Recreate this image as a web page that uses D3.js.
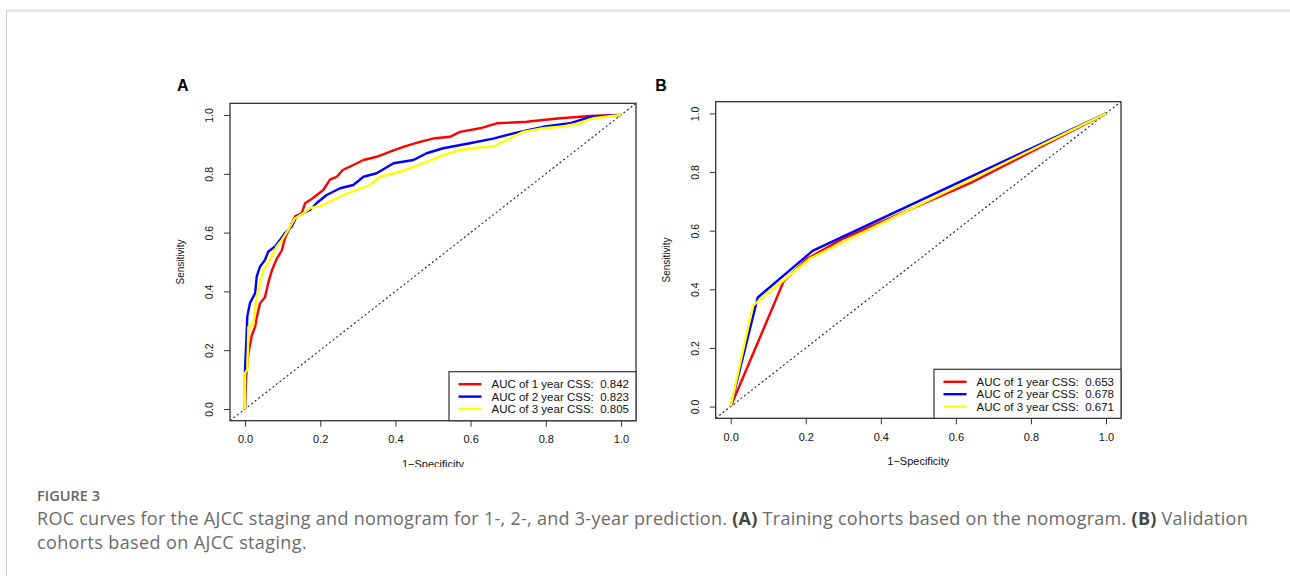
<!DOCTYPE html>
<html>
<head>
<meta charset="utf-8">
<script src="https://cdn.jsdelivr.net/npm/d3@7"></script>
<style>
  html, body { margin: 0; padding: 0; background: #fff; }
  svg { display: block; }
</style>
</head>
<body>
<svg id="chart" width="1290" height="576"></svg>
<script>
// ---------------- DATA ----------------
const tickValues = [0, 0.2, 0.4, 0.6, 0.8, 1.0];
const tickLabels = ["0.0", "0.2", "0.4", "0.6", "0.8", "1.0"];
const seriesColors = ["#ff0000", "#0000ff", "#ffff00"];

// Panel A: training cohort (nomogram) — [1-specificity, sensitivity]
const aYear1 = [[0,0],[0.003,0.11],[0.009,0.19],[0.018,0.25],[0.027,0.28],[0.031,0.31],[0.04,0.36],[0.053,0.38],[0.062,0.43],[0.071,0.47],[0.084,0.51],[0.098,0.54],[0.106,0.58],[0.12,0.62],[0.133,0.655],[0.151,0.666],[0.16,0.70],[0.18,0.717],[0.208,0.745],[0.226,0.78],[0.244,0.79],[0.26,0.813],[0.288,0.83],[0.315,0.847],[0.35,0.858],[0.395,0.88],[0.421,0.892],[0.465,0.909],[0.5,0.92],[0.545,0.926],[0.572,0.943],[0.625,0.955],[0.67,0.972],[0.749,0.977],[0.793,0.983],[0.838,0.989],[0.918,0.997],[1,1]];
const aYear2 = [[0,0],[0,0.134],[0.004,0.247],[0.006,0.315],[0.013,0.36],[0.027,0.394],[0.031,0.45],[0.04,0.485],[0.053,0.507],[0.062,0.536],[0.08,0.553],[0.093,0.575],[0.106,0.598],[0.124,0.62],[0.137,0.655],[0.155,0.666],[0.173,0.677],[0.19,0.70],[0.217,0.728],[0.253,0.751],[0.288,0.762],[0.315,0.79],[0.35,0.802],[0.395,0.836],[0.448,0.847],[0.483,0.87],[0.527,0.887],[0.598,0.904],[0.66,0.92],[0.731,0.943],[0.793,0.96],[0.864,0.972],[0.918,0.994],[1,1]];
const aYear3 = [[0,0],[0,0.122],[0.006,0.134],[0.009,0.28],[0.022,0.287],[0.031,0.383],[0.04,0.428],[0.049,0.473],[0.066,0.507],[0.084,0.553],[0.098,0.575],[0.115,0.609],[0.133,0.649],[0.155,0.666],[0.173,0.683],[0.208,0.694],[0.235,0.711],[0.262,0.728],[0.297,0.745],[0.332,0.762],[0.359,0.79],[0.412,0.807],[0.448,0.824],[0.483,0.841],[0.527,0.864],[0.572,0.881],[0.625,0.89],[0.66,0.892],[0.696,0.915],[0.74,0.943],[0.793,0.955],[0.838,0.96],[0.891,0.972],[0.926,0.989],[1,1]];
const aLegend = ["AUC of 1 year CSS:  0.842", "AUC of 2 year CSS:  0.823", "AUC of 3 year CSS:  0.805"];

// Panel B: validation cohort (AJCC staging)
const bYear1 = [[0,0],[0.141,0.427],[0.203,0.504],[0.301,0.574],[0.638,0.762],[1,1]];
const bYear2 = [[0,0],[0.072,0.372],[0.218,0.531],[1,1]];
const bYear3 = [[0,0],[0.059,0.344],[0.212,0.506],[1,1]];
const bLegend = ["AUC of 1 year CSS:  0.653", "AUC of 2 year CSS:  0.678", "AUC of 3 year CSS:  0.671"];

const captionTitle = "FIGURE 3";
const captionLine1 = [
  {t: "ROC curves for the AJCC staging and nomogram for 1-, 2-, and 3-year prediction. ", b: false},
  {t: "(A)", b: true},
  {t: " Training cohorts based on the nomogram. ", b: false},
  {t: "(B)", b: true},
  {t: " Validation", b: false}
];
const captionLine2 = [{t: "cohorts based on AJCC staging.", b: false}];

// ---------------- DRAW ----------------
const svg = d3.select("#chart");
const rFont = "'Liberation Sans', Arial, Helvetica, sans-serif";

// card border
svg.append("line").attr("x1", 6).attr("x2", 1290).attr("y1", 10.5).attr("y2", 10.5)
  .attr("stroke", "#e2e2e2").attr("stroke-width", 2);
svg.append("line").attr("x1", 6.5).attr("x2", 6.5).attr("y1", 10).attr("y2", 576)
  .attr("stroke", "#cccccc").attr("stroke-width", 1);

const defs = svg.append("defs");

function drawPanel(cfg) {
  const clipId = "clip-" + cfg.label;
  defs.append("clipPath").attr("id", clipId).append("rect")
    .attr("x", cfg.clip[0]).attr("y", cfg.clip[1]).attr("width", cfg.clip[2]).attr("height", cfg.clip[3]);
  const g = svg.append("g").attr("clip-path", `url(#${clipId})`);

  const x = d3.scaleLinear().domain([-0.04, 1.04]).range([cfg.left, cfg.right]);
  const y = d3.scaleLinear().domain([-0.04, 1.04]).range([cfg.bottom, cfg.top]);

  const plotClip = "plot-" + cfg.label;
  defs.append("clipPath").attr("id", plotClip).append("rect")
    .attr("x", cfg.left).attr("y", cfg.top).attr("width", cfg.right - cfg.left).attr("height", cfg.bottom - cfg.top);

  // diagonal reference line
  g.append("line")
    .attr("clip-path", `url(#${plotClip})`)
    .attr("x1", x(-0.04)).attr("y1", y(-0.04)).attr("x2", x(1.04)).attr("y2", y(1.04))
    .attr("stroke", "#222").attr("stroke-width", 1.1).attr("stroke-dasharray", "2,2.5");

  // curves
  const line = d3.line().x(d => x(d[0])).y(d => y(d[1]));
  cfg.series.forEach((s, i) => {
    g.append("path").datum(s).attr("d", line)
      .attr("fill", "none").attr("stroke", seriesColors[i]).attr("stroke-width", 2.4)
      .attr("stroke-linejoin", "round");
  });

  // axes
  const xAxis = d3.axisBottom(x).tickValues(tickValues).tickFormat((d, i) => tickLabels[i]).tickSize(6).tickPadding(6);
  const gx = g.append("g").attr("transform", `translate(0,${cfg.bottom})`).call(xAxis);
  const yAxis = d3.axisLeft(y).tickValues(tickValues).tickFormat((d, i) => tickLabels[i]).tickSize(6).tickPadding(6);
  const gy = g.append("g").attr("transform", `translate(${cfg.left},0)`).call(yAxis);
  [gx, gy].forEach(a => {
    a.select(".domain").remove();
    a.selectAll(".tick line").attr("stroke", "#333").attr("stroke-width", 1);
    a.selectAll("text").attr("fill", "#111").style("font-family", rFont);
  });
  gx.selectAll("text").style("font-size", "11px").attr("dy", null)
    .attr("y", 18.5).attr("dominant-baseline", "central");
  gy.selectAll("text").style("font-size", "10.5px")
    .attr("x", null).attr("dy", null).attr("text-anchor", "middle").attr("dominant-baseline", "central")
    .attr("transform", `translate(-21,0) rotate(-90)`);

  // box
  g.append("rect").attr("x", cfg.left).attr("y", cfg.top)
    .attr("width", cfg.right - cfg.left).attr("height", cfg.bottom - cfg.top)
    .attr("fill", "none").attr("stroke", "#333").attr("stroke-width", 1.3);

  // axis titles
  g.append("text").attr("x", (cfg.left + cfg.right) / 2).attr("y", cfg.bottom + 43)
    .attr("text-anchor", "middle").attr("dominant-baseline", "central")
    .style("font-family", rFont).style("font-size", "11px").attr("fill", "#111")
    .text("1\u2212Specificity");
  g.append("text").attr("transform", `translate(${cfg.left - 49.5},${(cfg.top + cfg.bottom) / 2}) rotate(-90)`)
    .attr("text-anchor", "middle").attr("dominant-baseline", "central")
    .style("font-family", rFont).style("font-size", "10px").attr("fill", "#111")
    .text("Sensitivity");

  // panel label
  g.append("text").attr("x", cfg.labelX).attr("y", 85).attr("text-anchor", "middle")
    .attr("dominant-baseline", "central")
    .style("font-family", rFont).style("font-size", "16px").style("font-weight", "bold")
    .attr("fill", "#000").text(cfg.label);

  // legend
  const lw = 187, lh = 49;
  const lx = cfg.right - lw, ly = cfg.bottom - lh;
  const lg = g.append("g").attr("transform", `translate(${lx},${ly})`);
  lg.append("rect").attr("width", lw).attr("height", lh).attr("fill", "#fff")
    .attr("stroke", "#333").attr("stroke-width", 1.2);
  cfg.legend.forEach((t, i) => {
    const ry = 12.5 + i * 12.4;
    lg.append("line").attr("x1", 9.5).attr("x2", 32.5).attr("y1", ry).attr("y2", ry)
      .attr("stroke", seriesColors[i]).attr("stroke-width", 2.4);
    lg.append("text").attr("x", 42.5).attr("y", ry).attr("dominant-baseline", "central")
      .style("font-family", rFont).style("font-size", "11.5px").attr("fill", "#111")
      .attr("xml:space", "preserve").style("white-space", "pre")
      .text(t);
  });
}

drawPanel({
  label: "A", labelX: 182.7,
  left: 230, right: 636, top: 103.3, bottom: 420.7,
  clip: [150, 60, 500, 407],
  series: [aYear1, aYear2, aYear3], legend: aLegend
});
drawPanel({
  label: "B", labelX: 661,
  left: 715.7, right: 1121, top: 101.7, bottom: 418.3,
  clip: [645, 60, 500, 420],
  series: [bYear1, bYear2, bYear3], legend: bLegend
});

// caption
const capFont = "'Open Sans', 'Noto Sans', sans-serif";
const capTitle = svg.append("text").attr("x", 37).attr("y", 501)
  .style("font-family", capFont).style("font-size", "14.5px").style("font-weight", "600")
  .attr("fill", "#666").text(captionTitle);

function fitWidth(t, target) {
  const n = t.text().length;
  const w = t.node().getComputedTextLength();
  if (n > 1) t.style("letter-spacing", ((target - w) / n) + "px");
}
fitWidth(capTitle, 63);

function captionLine(parts, yPos, target) {
  const t = svg.append("text").attr("x", 37).attr("y", yPos)
    .style("font-family", capFont).style("font-size", "18px").attr("fill", "#6b6b6b")
    .attr("xml:space", "preserve");
  parts.forEach(p => {
    t.append("tspan").text(p.t)
      .style("font-weight", p.b ? "700" : "400")
      .attr("fill", p.b ? "#444" : "#6b6b6b");
  });
  fitWidth(t, target);
}
captionLine(captionLine1, 525, 1211);
captionLine(captionLine2, 549, 270);
</script>
</body>
</html>
